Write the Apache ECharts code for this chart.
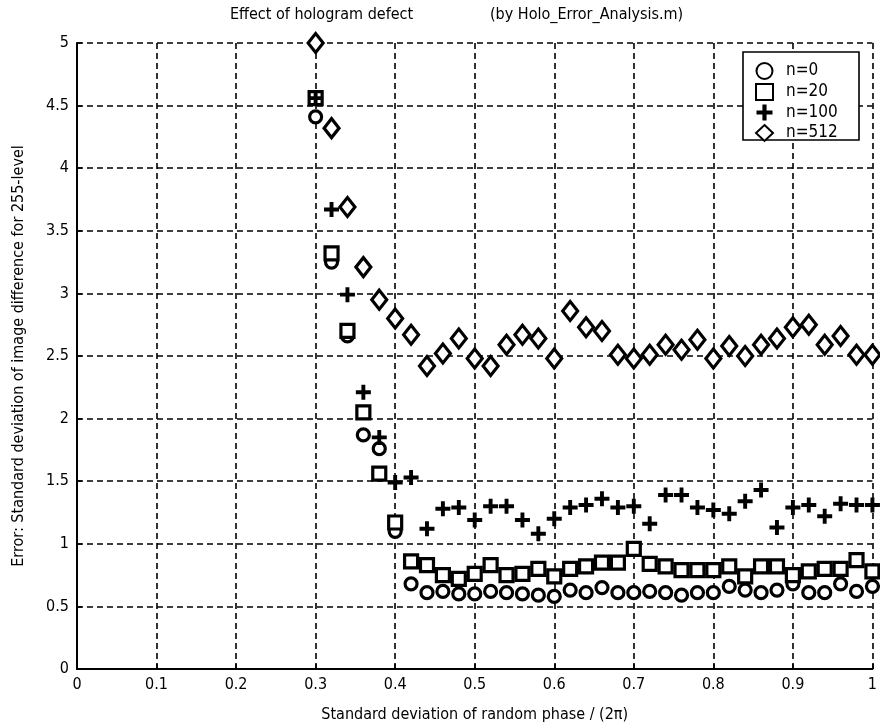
<!DOCTYPE html>
<html><head><meta charset="utf-8">
<script src="https://cdn.jsdelivr.net/npm/echarts@6/dist/echarts.min.js"></script>
<style>html,body{margin:0;padding:0;background:#fff}#c{width:880px;height:728px}</style>
</head><body><div id="c"></div>
<script>
const xValues = [0.30,0.32,0.34,0.36,0.38,0.40,0.42,0.44,0.46,0.48,0.50,0.52,0.54,0.56,0.58,0.60,0.62,0.64,0.66,0.68,0.70,0.72,0.74,0.76,0.78,0.80,0.82,0.84,0.86,0.88,0.90,0.92,0.94,0.96,0.98,1.00];
const n0   = [4.41,3.25,2.66,1.87,1.76,1.10,0.68,0.61,0.62,0.60,0.60,0.62,0.61,0.60,0.59,0.58,0.63,0.61,0.65,0.61,0.61,0.62,0.61,0.59,0.61,0.61,0.66,0.63,0.61,0.63,0.68,0.61,0.61,0.68,0.62,0.66];
const n20  = [4.56,3.32,2.70,2.05,1.56,1.17,0.86,0.83,0.75,0.72,0.76,0.83,0.75,0.76,0.80,0.74,0.80,0.82,0.85,0.85,0.96,0.84,0.82,0.79,0.79,0.79,0.82,0.74,0.82,0.82,0.75,0.78,0.80,0.80,0.87,0.78];
const n100 = [4.56,3.67,2.99,2.21,1.85,1.49,1.53,1.12,1.28,1.29,1.19,1.30,1.30,1.19,1.08,1.20,1.29,1.31,1.36,1.29,1.30,1.16,1.39,1.39,1.29,1.27,1.24,1.34,1.43,1.13,1.29,1.31,1.22,1.32,1.31,1.31];
const n512 = [5.00,4.32,3.69,3.21,2.95,2.80,2.67,2.42,2.52,2.64,2.48,2.42,2.59,2.67,2.64,2.48,2.86,2.73,2.70,2.51,2.48,2.51,2.59,2.55,2.63,2.48,2.58,2.50,2.59,2.64,2.73,2.75,2.59,2.66,2.51,2.51];
const seriesNames = ['n=0','n=20','n=100','n=512'];
const xTicks = ['0','0.1','0.2','0.3','0.4','0.5','0.6','0.7','0.8','0.9','1'];
const yTicks = ['0','0.5','1','1.5','2','2.5','3','3.5','4','4.5','5'];

const FONT = '"Liberation Sans Narrow","DejaVu Sans Condensed",Arial,sans-serif';
const PLUS = 'path://M3.7,0 L6.3,0 L6.3,3.7 L10,3.7 L10,6.3 L6.3,6.3 L6.3,10 L3.7,10 L3.7,6.3 L0,6.3 L0,3.7 L3.7,3.7 Z';
function pts(arr){ return xValues.map((x,i)=>[x,arr[i]]); }
const hollow = {color:'#fff', borderColor:'#000', borderWidth:3.2, opacity:1};

const chart = echarts.init(document.getElementById('c'), null, {renderer:'canvas'});
chart.setOption({
  backgroundColor:'#fff',
  animation:false,
  textStyle:{fontFamily:FONT, color:'#000'},
  grid:{left:77, right:5, top:43, bottom:55},
  graphic:[
    {type:'text', left:230, top:7, style:{text:'Effect of hologram defect', font:'16px '+FONT, fill:'#000'}},
    {type:'text', left:490, top:7, style:{text:'(by Holo_Error_Analysis.m)', font:'16px '+FONT, fill:'#000'}},
    {type:'rect', shape:{x:743, y:52, width:116, height:88}, style:{fill:'#fff', stroke:'#000', lineWidth:1.6}, z:100}
  ],
  legend:{
    show:true, orient:'vertical', left:750, top:57, itemGap:3, itemWidth:17, itemHeight:16,
    textStyle:{fontFamily:FONT, fontSize:17, color:'#000', padding:[0,0,0,8]},
    data:seriesNames, z:101
  },
  xAxis:{
    type:'value', min:0, max:1, interval:0.1,
    name:'Standard deviation of random phase / (2π)', nameLocation:'middle', nameGap:38,
    nameTextStyle:{fontFamily:FONT, fontSize:16, color:'#000'},
    axisLine:{show:true, onZero:false, lineStyle:{color:'#000', width:2}},
    axisTick:{show:true, inside:true, length:5, lineStyle:{color:'#000', width:1.5}},
    axisLabel:{fontFamily:FONT, fontSize:16, color:'#000', margin:8,
      formatter:(v)=>xTicks[Math.round(v*10)]},
    splitLine:{show:true, lineStyle:{color:'#000', type:[6,4], width:1.6}}
  },
  yAxis:{
    type:'value', min:0, max:5, interval:0.5,
    name:'Error: Standard deviation of image difference for 255-level', nameLocation:'middle', nameGap:50, nameRotate:90,
    nameTextStyle:{fontFamily:FONT, fontSize:16, color:'#000'},
    axisLine:{show:true, onZero:false, lineStyle:{color:'#000', width:2}},
    axisTick:{show:true, inside:true, length:5, lineStyle:{color:'#000', width:1.5}},
    axisLabel:{fontFamily:FONT, fontSize:16, color:'#000', margin:8,
      formatter:(v)=>yTicks[Math.round(v*2)]},
    splitLine:{show:true, lineStyle:{color:'#000', type:[6,4], width:1.6}}
  },
  series:[
    {name:'n=0', type:'scatter', data:pts(n0), symbol:'circle', symbolSize:12, itemStyle:hollow, z:2},
    {name:'n=20', type:'scatter', data:pts(n20), symbol:'rect', symbolSize:13, itemStyle:hollow, z:3},
    {name:'n=100', type:'scatter', data:pts(n100), symbol:PLUS, symbolSize:15, itemStyle:{color:'#000', opacity:1}, z:4},
    {name:'n=512', type:'scatter', data:pts(n512), symbol:'diamond', symbolSize:[15,19], itemStyle:hollow, z:5}
  ]
});
</script></body></html>
